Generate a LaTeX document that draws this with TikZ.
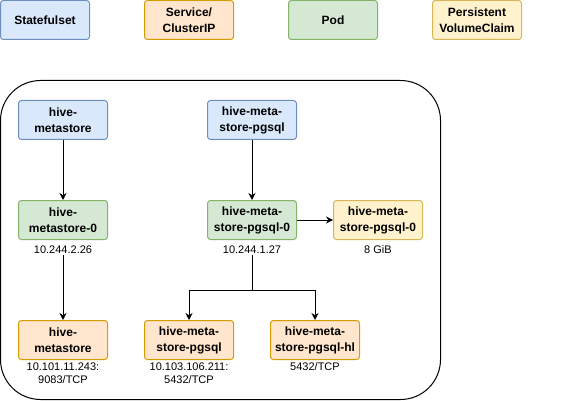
\documentclass[tikz,border=0pt]{standalone}
\usepackage{fontspec}
\setmainfont{Liberation Sans}
\usetikzlibrary{arrows.meta}
\definecolor{ssfill}{HTML}{DAE8FC}
\definecolor{ssline}{HTML}{6C8EBF}
\definecolor{svcfill}{HTML}{FFE6CC}
\definecolor{svcline}{HTML}{D79B00}
\definecolor{podfill}{HTML}{D5E8D4}
\definecolor{podline}{HTML}{82B366}
\definecolor{pvcfill}{HTML}{FFF2CC}
\definecolor{pvcline}{HTML}{D6B656}
\begin{document}
\begin{tikzpicture}[x=1pt,y=-1pt,line width=1pt,
  >={Stealth[length=7pt,width=7pt]},
  box/.style={draw, rectangle, rounded corners=3pt, minimum width=89pt, minimum height=39pt,
    inner sep=1pt, align=center, font=\bfseries\fontsize{12}{16}\selectfont},
  ssbox/.style={box, fill=ssfill, draw=ssline},
  svcbox/.style={box, fill=svcfill, draw=svcline},
  podbox/.style={box, fill=podfill, draw=podline},
  pvcbox/.style={box, fill=pvcfill, draw=pvcline},
  info/.style={align=center, inner sep=1pt, font=\fontsize{11}{13}\selectfont}]
\useasboundingbox (0,0) rectangle (581,401);

% legend
\node[ssbox] (legss) at (45,20) {Statefulset};
\node[svcbox] (legsvc) at (189,20) {Service/\\ClusterIP};
\node[podbox] (legpod) at (333,20) {Pod};
\node[pvcbox] (legpvc) at (477,20) {Persistent\\VolumeClaim};

% namespace frame
\draw[rounded corners=40pt] (0.5,80.5) rectangle (440.5,399.5);

\node[ssbox] (ssmeta) at (63,120) {hive-\\metastore};
\node[ssbox] (sspg) at (252,120) {hive-meta-\\store-pgsql};

\node[podbox] (podmeta) at (63,220) {hive-\\metastore-0};
\node[podbox] (podpg) at (252,220) {hive-meta-\\store-pgsql-0};
\node[pvcbox] (pvcpg) at (378,220) {hive-meta-\\store-pgsql-0};
\node[info] (ipmeta) at (63,250) {10.244.2.26};
\node[info] (ippg) at (252,250) {10.244.1.27};
\node[info] (sizepvc) at (378,250) {8 GiB};

\node[svcbox] (svcmeta) at (63,340) {hive-\\metastore};
\node[svcbox] (svcpg) at (189,340) {hive-meta-\\store-pgsql};
\node[svcbox] (svchl) at (315,340) {hive-meta-\\store-pgsql-hl};
\node[info, anchor=north] (portmeta) at (63,361) {10.101.11.243:\\9083/TCP};
\node[info, anchor=north] (portpg) at (189,361) {10.103.106.211:\\5432/TCP};
\node[info, anchor=north] (porthl) at (315,361) {5432/TCP};

\coordinate (split) at (252,290);

\draw[->] (ssmeta) -- (podmeta);
\draw[->] (sspg) -- (podpg);
\draw[->] (podpg) -- (pvcpg);
\draw[->] (ipmeta) -- (svcmeta);
\draw[->] (ippg) -- (split) -| (svcpg);
\draw[->] (split) -| (svchl);
\end{tikzpicture}
\end{document}
